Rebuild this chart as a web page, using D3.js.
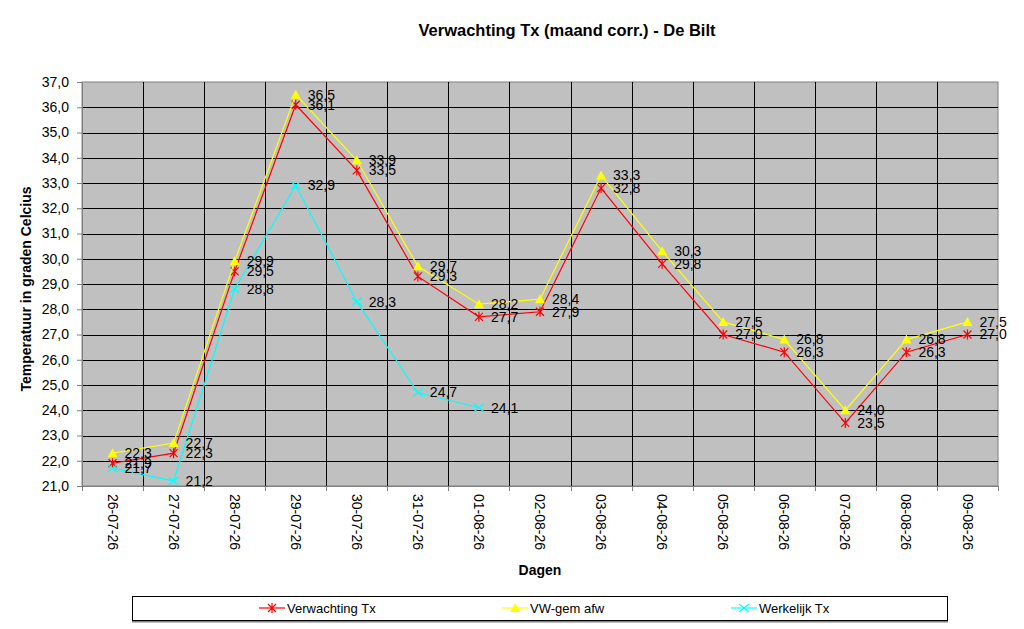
<!DOCTYPE html>
<html>
<head>
<meta charset="utf-8">
<script src="https://cdn.jsdelivr.net/npm/d3@7"></script>
<style>
  body { margin: 0; background: #fff; }
  text { font-family: "Liberation Sans", Arial, sans-serif; }
</style>
</head>
<body>
<script>
// Data
const dagen = ["26-07-26", "27-07-26", "28-07-26", "29-07-26", "30-07-26", "31-07-26", "01-08-26", "02-08-26",
    "03-08-26", "04-08-26", "05-08-26", "06-08-26", "07-08-26", "08-08-26", "09-08-26"];
const verwachting = [21.9, 22.3, 29.5, 36.1, 33.5, 29.3, 27.7, 27.9, 32.8, 29.8, 27.0, 26.3, 23.5, 26.3, 27.0];
const vwGemAfw = [22.3, 22.7, 29.9, 36.5, 33.9, 29.7, 28.2, 28.4, 33.3, 30.3, 27.5, 26.8, 24.0, 26.8, 27.5];
const werkelijk = [21.7, 21.2, 28.8, 32.9, 28.3, 24.7, 24.1, null, null, null, null, null, null, null, null];
const yTicks = [21, 22, 23, 24, 25, 26, 27, 28, 29, 30, 31, 32, 33, 34, 35, 36, 37];

const series = [
    {name: "Verwachting Tx", values: verwachting, color: "#ff0000", marker: "star"},
    {name: "VW-gem afw", values: vwGemAfw, color: "#ffff00", marker: "triangle"},
    {name: "Werkelijk Tx", values: werkelijk, color: "#00ffff", marker: "cross"}
];

const W = 1024, H = 629;
const margin = {top: 82, right: 26, bottom: 143, left: 82};
const width = W - margin.left - margin.right,
    height = H - margin.top - margin.bottom;

const fmt = v => v.toFixed(1).replace(".", ",");

const svg = d3.select("body").append("svg")
    .attr("width", W)
    .attr("height", H);

// Titel
svg.append("text")
    .attr("x", 567).attr("y", 36)
    .attr("text-anchor", "middle")
    .style("font-weight", "bold").style("font-size", "16.5px")
    .text("Verwachting Tx (maand corr.) - De Bilt");

const g = svg.append("g")
    .attr("transform", `translate(${margin.left},${margin.top})`);

// Schalen
const x = d3.scaleBand().domain(dagen).range([0, width]);
const y = d3.scaleLinear().domain([21, 37]).range([height, 0]);
const cx = d => x(d) + x.bandwidth() / 2;

// Achtergrond plot
g.append("rect")
    .attr("width", width).attr("height", height)
    .attr("fill", "#c0c0c0")
    .attr("stroke", "#808080");

// Rasterlijnen
g.append("g").selectAll("line")
    .data(yTicks.slice(1, -1))
    .join("line")
    .attr("x1", 0).attr("x2", width)
    .attr("y1", d => Math.round(y(d)) + 0.5).attr("y2", d => Math.round(y(d)) + 0.5)
    .attr("stroke", "#000");

g.append("g").selectAll("line")
    .data(dagen.slice(1))
    .join("line")
    .attr("x1", d => Math.round(x(d)) + 0.5).attr("x2", d => Math.round(x(d)) + 0.5)
    .attr("y1", 0).attr("y2", height)
    .attr("stroke", "#000");

// Y-as
const yAxis = g.append("g")
    .call(d3.axisLeft(y).tickValues(yTicks).tickFormat(fmt).tickSize(5).tickSizeOuter(0));
yAxis.select(".domain").attr("stroke", "#808080");
yAxis.selectAll("line").attr("stroke", "#808080");
yAxis.selectAll("text").style("font-size", "14px").attr("fill", "#000").attr("x", -13);

// X-as (ticks op de grenzen van de dagen)
g.append("line")
    .attr("x1", 0).attr("x2", width)
    .attr("y1", height + 0.5).attr("y2", height + 0.5)
    .attr("stroke", "#808080");
g.append("g").selectAll("line")
    .data(d3.range(dagen.length + 1))
    .join("line")
    .attr("x1", i => Math.round(i * x.step()) + 0.5).attr("x2", i => Math.round(i * x.step()) + 0.5)
    .attr("y1", height).attr("y2", height + 5)
    .attr("stroke", "#808080");
g.append("g").selectAll("text")
    .data(dagen)
    .join("text")
    .attr("transform", d => `translate(${cx(d)},${height + 8}) rotate(90)`)
    .attr("dy", "0.35em")
    .style("font-size", "14px")
    .text(d => d);

// As-titels
svg.append("text")
    .attr("x", margin.left + width / 2).attr("y", 575)
    .attr("text-anchor", "middle")
    .style("font-weight", "bold").style("font-size", "14px")
    .text("Dagen");
svg.append("text")
    .attr("transform", `translate(31,289) rotate(-90)`)
    .attr("text-anchor", "middle")
    .style("font-weight", "bold").style("font-size", "14px")
    .text("Temperatuur in graden Celcius");

// Markers
function drawMarker(sel, type, color) {
    if (type === "star") {
        sel.append("path")
            .attr("d", "M-4,-4L4,4M-4,4L4,-4M0,-5L0,5")
            .attr("stroke", color).attr("stroke-width", 1.2).attr("fill", "none");
    } else if (type === "triangle") {
        sel.append("path")
            .attr("d", "M0,-5L5,4L-5,4Z")
            .attr("fill", color);
    } else {
        sel.append("path")
            .attr("d", "M-5,-4L5,4M-5,4L5,-4")
            .attr("stroke", color).attr("stroke-width", 1.2).attr("fill", "none");
    }
}

const line = d3.line()
    .defined(d => d.v !== null)
    .x(d => cx(d.dag))
    .y(d => y(d.v));

series.forEach(s => {
    const pts = dagen.map((dag, i) => ({dag: dag, v: s.values[i]}));
    g.append("path")
        .datum(pts)
        .attr("d", line)
        .attr("fill", "none")
        .attr("stroke", s.color)
        .attr("stroke-width", 1.2);

    const valid = pts.filter(d => d.v !== null);
    g.append("g").selectAll("g")
        .data(valid)
        .join("g")
        .attr("transform", d => `translate(${cx(d.dag)},${y(d.v)})`)
        .each(function () { drawMarker(d3.select(this), s.marker, s.color); });
});

// Labels boven alles
series.forEach(s => {
    const pts = dagen.map((dag, i) => ({dag: dag, v: s.values[i]})).filter(d => d.v !== null);
    g.append("g").selectAll("text")
        .data(pts)
        .join("text")
        .attr("x", d => cx(d.dag) + 12)
        .attr("y", d => y(d.v))
        .attr("dy", "0.35em")
        .style("font-size", "14px")
        .attr("fill", "#000")
        .text(d => fmt(d.v));
});

// Legenda
const leg = svg.append("g").attr("transform", "translate(132,596)");
leg.append("rect")
    .attr("x", 0).attr("y", 1.5).attr("width", 816).attr("height", 25)
    .attr("fill", "#808080");
leg.append("rect")
    .attr("x", 0.5).attr("y", 0.5).attr("width", 815).attr("height", 24)
    .attr("fill", "#fff").attr("stroke", "#000");
const legX = [127, 370, 599];
series.forEach((s, i) => {
    const item = leg.append("g").attr("transform", `translate(${legX[i]},12)`);
    item.append("line")
        .attr("x1", 0).attr("x2", 26).attr("y1", 0).attr("y2", 0)
        .attr("stroke", s.color).attr("stroke-width", 1.2);
    const m = item.append("g").attr("transform", "translate(13,0)");
    drawMarker(m, s.marker, s.color);
    item.append("text")
        .attr("x", 28).attr("dy", "0.35em")
        .style("font-size", "13px")
        .text(s.name);
});
</script>
</body>
</html>
